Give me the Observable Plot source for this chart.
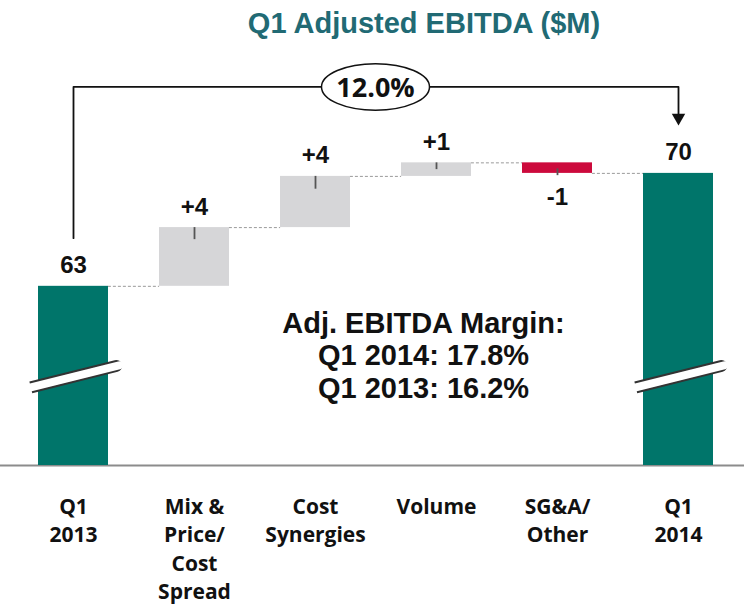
<!DOCTYPE html>
<html><head><meta charset="utf-8">
<script src="https://cdn.jsdelivr.net/npm/d3@7"></script>
<script src="https://cdn.jsdelivr.net/npm/@observablehq/plot@0.6"></script>
<style>
body{margin:0;background:#fff;width:744px;height:612px;overflow:hidden}
#title{position:relative;height:44px}
#title span{position:absolute;left:424px;top:7px;transform:translateX(-50%);white-space:nowrap;font:bold 29px "Liberation Sans",Arial,sans-serif;color:#216a74;line-height:1.117}
</style></head><body>
<div id="title"><span></span></div>
<div id="chart"></div>
<script>
// ---- data ----
const titleText = "Q1 Adjusted EBITDA ($M)";
const categories = ["Q1 2013", "Mix & Price/Cost Spread", "Cost Synergies", "Volume", "SG&A/Other", "Q1 2014"];
const tickLabels = ["Q1\n2013", "Mix &\nPrice/\nCost\nSpread", "Cost\nSynergies", "Volume", "SG&A/\nOther", "Q1\n2014"];
const kinds = ["total", "delta", "delta", "delta", "delta", "total"];
const values = [62.5, 3.9, 3.4, 0.9, -0.7, 70.0];
const valueLabels = ["63", "+4", "+4", "+1", "-1", "70"];
const whiskerHigh = [null, 66.4, 69.8, 70.7, 70.3, null];
const whiskerLow = [null, 65.6, 68.95, 70.25, 69.85, null];
const axisFloor = 50.6;      // broken axis: bars start here
const axisCeil = 78.56;
const breakLevel = 56.5;     // where the axis-break marks sit
const growthLabel = "12.0%";
const bracketTop = 75.74;
const bracketStart = 65.7;
const bracketEnd = 73.9;
const arrowLevel = 73.7;
const marginLines = ["Adj. EBITDA Margin:", "Q1 2014: 17.8%", "Q1 2013: 16.2%"];
const marginLevel = 57.95;

// ---- styles ----
const teal = "#00756a", gray = "#d6d6d8", red = "#cc0a3c";
const BW = 69.9;

document.querySelector("#title span").textContent = titleText;

const rows = [];
let run = 0;
categories.forEach((c, i) => {
  const v = values[i];
  let y1, y2, fill;
  if (kinds[i] === "total") { y1 = axisFloor; y2 = v; run = v; fill = teal; }
  else { y1 = run; y2 = run + v; run = y2; fill = v >= 0 ? gray : red; }
  rows.push({cat: c, y1, y2, top: Math.max(y1, y2), bottom: Math.min(y1, y2), neg: v < 0,
    label: valueLabels[i], tick: tickLabels[i], wHi: whiskerHigh[i], wLo: whiskerLow[i],
    kind: kinds[i], level: y2, fill});
});
const connectors = rows.slice(0, -1).map((d, i) => ({x1: d.cat, x2: rows[i + 1].cat, y: d.level}));
const bracket = [
  {x: categories[0], y: bracketStart},
  {x: categories[0], y: bracketTop},
  {x: categories[5], y: bracketTop},
  {x: categories[5], y: bracketEnd}
];
const ellipse = {
  draw(ctx, size) {
    const r = Math.sqrt(size / Math.PI), rx = r, ry = r * 0.43, k = 0.5523;
    ctx.moveTo(rx, 0);
    ctx.bezierCurveTo(rx, ry * k, rx * k, ry, 0, ry);
    ctx.bezierCurveTo(-rx * k, ry, -rx, ry * k, -rx, 0);
    ctx.bezierCurveTo(-rx, -ry * k, -rx * k, -ry, 0, -ry);
    ctx.bezierCurveTo(rx * k, -ry, rx, -ry * k, rx, 0);
    ctx.closePath();
  }
};
const totals = rows.filter(d => d.kind === "total");

const chart = Plot.plot({
  width: 744, height: 568,
  marginLeft: 7, marginRight: 0, marginTop: 0, marginBottom: 147,
  x: {type: "band", domain: categories, paddingInner: 0.424, paddingOuter: 0.2475, axis: null},
  y: {domain: [axisFloor, axisCeil], axis: null},
  style: {background: "white", overflow: "visible"},
  marks: [
    Plot.ruleY([axisFloor], {stroke: "#8c8c8c", strokeWidth: 2, insetLeft: -7}),
    Plot.ruleY(connectors, {x1: "x1", x2: "x2", y: "y", stroke: "#9a9a9a", strokeWidth: 1, strokeDasharray: "3,2", insetLeft: BW, insetRight: BW}),
    Plot.barY(rows, {x: "cat", y1: "y1", y2: "y2", fill: "fill"}),
    Plot.ruleX(rows.filter(d => d.wHi != null), {x: "cat", y1: "wLo", y2: "wHi", stroke: "#555", strokeWidth: 1.8}),
    Plot.vector(totals, {x: "cat", y: () => breakLevel, length: 88, rotate: 76, anchor: "middle", shape: "spike", r: 0, fill: "none", stroke: "#333", strokeWidth: 12, strokeLinecap: "butt"}),
    Plot.vector(totals, {x: "cat", y: () => breakLevel, length: 94, rotate: 76, anchor: "middle", shape: "spike", r: 0, fill: "none", stroke: "white", strokeWidth: 8, strokeLinecap: "butt"}),
    Plot.text(rows.filter(d => !d.neg), {x: "cat", y: "top", text: "label", lineAnchor: "bottom", dy: -13, fontFamily: "Liberation Sans, Arial, sans-serif", fontWeight: "bold", fontSize: 24, fill: "#111"}),
    Plot.text(rows.filter(d => d.neg), {x: "cat", y: "bottom", text: "label", lineAnchor: "top", dy: 15, fontFamily: "Liberation Sans, Arial, sans-serif", fontWeight: "bold", fontSize: 24, fill: "#111"}),
    Plot.text(rows, {x: "cat", y: () => axisFloor, text: "tick", lineAnchor: "top", dy: 28, lineHeight: 1.36, fontFamily: "Open Sans, sans-serif", fontWeight: "bold", fontSize: 21, fill: "#111"}),
    Plot.line(bracket, {x: "x", y: "y", stroke: "#111", strokeWidth: 1.8}),
    Plot.dot([categories[5]], {x: d => d, y: () => arrowLevel, symbol: "triangle", r: 5, fill: "#111", rotate: 180}),
    Plot.dot([growthLabel], {x: () => categories[2], y: () => bracketTop, dx: 60, symbol: ellipse, r: 54, fill: "white", stroke: "#111", strokeWidth: 1.5}),
    Plot.text([growthLabel], {x: () => categories[2], y: () => bracketTop, dx: 60, dy: 1, text: d => d, fontFamily: "Open Sans, sans-serif", fontWeight: "bold", fontSize: 27, fill: "#111"}),
    Plot.text([marginLines.join("\n")], {x: () => categories[3], y: () => marginLevel, dx: -13, text: d => d, lineAnchor: "middle", lineHeight: 1.12, fontFamily: "Liberation Sans, Arial, sans-serif", fontWeight: "bold", fontSize: 29, fill: "#111"})
  ]
});
document.getElementById("chart").appendChild(chart);
</script>
</body></html>
